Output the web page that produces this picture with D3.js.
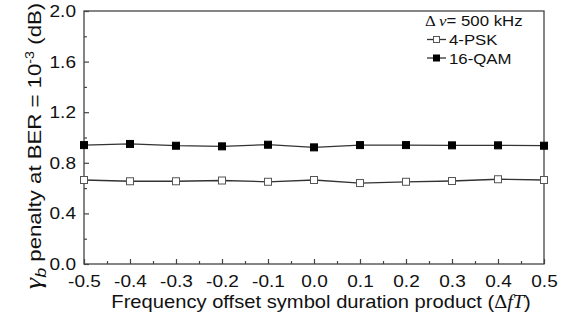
<!DOCTYPE html>
<html>
<head>
<meta charset="utf-8">
<script src="https://cdn.jsdelivr.net/npm/d3@7"></script>
<style>
  body { margin: 0; background: #fff; }
  text { font-family: Arial, "Liberation Sans", sans-serif; fill: #111; }
</style>
</head>
<body>
<script>
// data
var offsets = [-0.5, -0.4, -0.3, -0.2, -0.1, 0.0, 0.1, 0.2, 0.3, 0.4, 0.5];
var psk4 = [0.664, 0.654, 0.654, 0.66, 0.65, 0.664, 0.64, 0.65, 0.656, 0.67, 0.664];
var qam16 = [0.94, 0.949, 0.935, 0.93, 0.943, 0.922, 0.94, 0.94, 0.938, 0.938, 0.935];
var xTicks = [-0.5, -0.4, -0.3, -0.2, -0.1, 0.0, 0.1, 0.2, 0.3, 0.4, 0.5];
var yTicks = [0.0, 0.4, 0.8, 1.2, 1.6, 2.0];
var xMinorTicks = [-0.45, -0.35, -0.25, -0.15, -0.05, 0.05, 0.15, 0.25, 0.35, 0.45];
var yMinorTicks = [0.2, 0.6, 1.0, 1.4, 1.8];

var width = 573, height = 320;
var margin = {left: 84, right: 29, top: 11, bottom: 56};
var stretch = 1.12; // the picture's type is a bit wider than Arial

var svg = d3.select('body').append('svg').attr('width', width).attr('height', height);

var x = d3.scaleLinear().domain([-0.5, 0.5]).range([margin.left, width - margin.right]);
var y = d3.scaleLinear().domain([0, 2.0]).range([height - margin.bottom, margin.top]);

var axisColor = '#444';
var fmt = d3.format('.1f');

// widen a text element around its own anchor point
function widen(sel) {
    sel.each(function () {
        var t = d3.select(this);
        var tx = +t.attr('x') || 0, ty = +t.attr('y') || 0;
        t.attr('x', 0).attr('y', 0)
            .attr('transform', 'translate(' + tx + ',' + ty + ') scale(' + stretch + ',1)');
    });
}

// frame
svg.append('rect')
    .attr('x', x(-0.5)).attr('y', y(2.0))
    .attr('width', x(0.5) - x(-0.5)).attr('height', y(0) - y(2.0))
    .attr('fill', 'none').attr('stroke', axisColor).attr('stroke-width', 1.3);

// x axis, ticks inward
var xAxis = svg.append('g')
    .attr('transform', 'translate(0,' + y(0) + ')')
    .call(d3.axisBottom(x).tickValues(xTicks).tickSizeInner(-5).tickSizeOuter(0).tickPadding(11)
        .tickFormat(function (d) { return fmt(d).replace('\u2212', '-'); }));
xAxis.select('.domain').remove();
xAxis.selectAll('line').attr('stroke', axisColor).attr('stroke-width', 1.2);
xAxis.selectAll('text').attr('font-size', 17).attr('fill', '#111')
    .style('font-family', 'Arial, "Liberation Sans", sans-serif').call(widen);

var xMinor = svg.append('g')
    .attr('transform', 'translate(0,' + y(0) + ')')
    .call(d3.axisBottom(x).tickValues(xMinorTicks).tickSizeInner(-3).tickSizeOuter(0).tickFormat(''));
xMinor.select('.domain').remove();
xMinor.selectAll('line').attr('stroke', axisColor).attr('stroke-width', 1.2);

// y axis
var yAxis = svg.append('g')
    .attr('transform', 'translate(' + x(-0.5) + ',0)')
    .call(d3.axisLeft(y).tickValues(yTicks).tickFormat(fmt).tickSizeInner(-5).tickSizeOuter(0).tickPadding(8));
yAxis.select('.domain').remove();
yAxis.selectAll('line').attr('stroke', axisColor).attr('stroke-width', 1.2);
yAxis.selectAll('text').attr('font-size', 17).attr('fill', '#111')
    .style('font-family', 'Arial, "Liberation Sans", sans-serif').call(widen);

var yMinor = svg.append('g')
    .attr('transform', 'translate(' + x(-0.5) + ',0)')
    .call(d3.axisLeft(y).tickValues(yMinorTicks).tickSizeInner(-3).tickSizeOuter(0).tickFormat(''));
yMinor.select('.domain').remove();
yMinor.selectAll('line').attr('stroke', axisColor).attr('stroke-width', 1.2);

// axis titles
var xt = svg.append('text')
    .attr('transform', 'translate(321,308) scale(' + stretch + ',1)')
    .attr('text-anchor', 'middle').attr('font-size', 18);
xt.append('tspan').text('Frequency offset symbol duration product (');
xt.append('tspan').text('\u0394').style('font-family', '"Liberation Serif", serif');
xt.append('tspan').text('fT').style('font-family', '"Liberation Serif", serif').style('font-style', 'italic');
xt.append('tspan').text(')');

var yt = svg.append('text')
    .attr('transform', 'translate(41,146) rotate(-90) scale(1.2,1)')
    .attr('text-anchor', 'middle').attr('font-size', 18.5);
yt.append('tspan').text('\u03b3').style('font-family', '"Liberation Serif", serif').style('font-style', 'italic').attr('font-size', 24);
yt.append('tspan').text('b').style('font-style', 'italic').attr('font-size', 15).attr('dy', 5);
yt.append('tspan').text(' penalty at BER = 10').attr('dy', -5);
yt.append('tspan').text('-3').attr('font-size', 12).attr('dy', -7);
yt.append('tspan').text(' (dB)').attr('dy', 7);

// series
var series = [
    {name: '4-PSK', values: psk4, fill: '#fff'},
    {name: '16-QAM', values: qam16, fill: '#000'}
];

var line = d3.line()
    .x(function (d) { return x(d[0]); })
    .y(function (d) { return y(d[1]); });

series.forEach(function (s) {
    var pts = offsets.map(function (o, i) { return [o, s.values[i]]; });
    svg.append('path')
        .datum(pts)
        .attr('d', line)
        .attr('fill', 'none')
        .attr('stroke', '#333')
        .attr('stroke-width', 1.3);
    svg.selectAll(null)
        .data(pts)
        .enter().append('rect')
        .attr('x', function (d) { return x(d[0]) - 3.5; })
        .attr('y', function (d) { return y(d[1]) - 3.5; })
        .attr('width', 7).attr('height', 7)
        .attr('fill', s.fill)
        .attr('stroke', s.fill === '#fff' ? '#555' : '#000')
        .attr('stroke-width', 1);
});

// legend
var legend = svg.append('g');
var lt = legend.append('text')
    .attr('transform', 'translate(425,26) scale(' + stretch + ',1)')
    .attr('font-size', 15);
lt.append('tspan').text('\u0394 ').style('font-family', '"Liberation Serif", serif');
lt.append('tspan').text('\u03bd').style('font-family', '"Liberation Serif", serif').style('font-style', 'italic');
lt.append('tspan').text('= 500 kHz');

series.forEach(function (s, i) {
    var cy = 39.5 + i * 18.5;
    legend.append('line')
        .attr('x1', 427).attr('x2', 446).attr('y1', cy).attr('y2', cy)
        .attr('stroke', '#333').attr('stroke-width', 1.3);
    legend.append('rect')
        .attr('x', 436.5 - 3).attr('y', cy - 3).attr('width', 6).attr('height', 6)
        .attr('fill', s.fill).attr('stroke', s.fill === '#fff' ? '#555' : '#000');
    legend.append('text')
        .attr('transform', 'translate(449,' + (cy + 5.5) + ') scale(' + stretch + ',1)')
        .attr('font-size', 15)
        .text(s.name);
});
</script>
</body>
</html>
